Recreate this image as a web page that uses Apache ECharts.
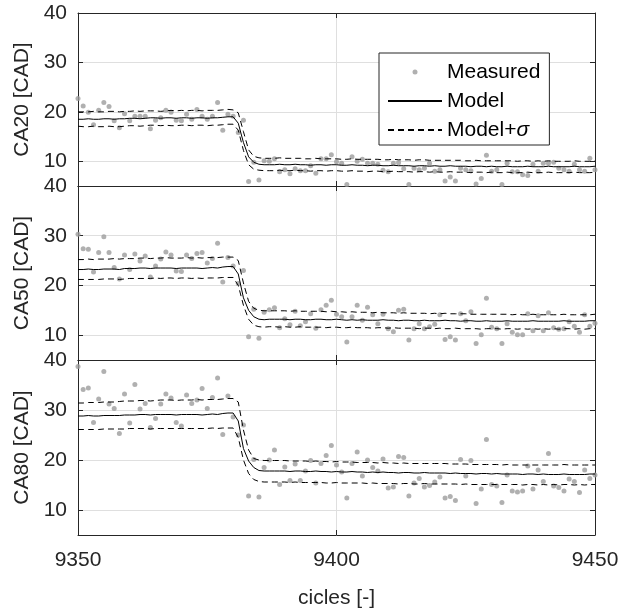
<!DOCTYPE html>
<html>
<head>
    <meta charset="utf-8">
    <script src="https://cdn.jsdelivr.net/npm/echarts@6/dist/echarts.min.js"></script>
    <style>
        html, body { margin: 0; padding: 0; background: #ffffff; }
        #chart { width: 620px; height: 614px; }
    </style>
</head>
<body>
<div id="chart"></div>
<script>
    // cycle numbers (x)
    var cycles = [
        9350, 9351, 9352, 9353, 9354, 9355, 9356, 9357, 9358, 9359,
        9360, 9361, 9362, 9363, 9364, 9365, 9366, 9367, 9368, 9369,
        9370, 9371, 9372, 9373, 9374, 9375, 9376, 9377, 9378, 9379,
        9380, 9381, 9382, 9383, 9384, 9385, 9386, 9387, 9388, 9389,
        9390, 9391, 9392, 9393, 9394, 9395, 9396, 9397, 9398, 9399,
        9400, 9401, 9402, 9403, 9404, 9405, 9406, 9407, 9408, 9409,
        9410, 9411, 9412, 9413, 9414, 9415, 9416, 9417, 9418, 9419,
        9420, 9421, 9422, 9423, 9424, 9425, 9426, 9427, 9428, 9429,
        9430, 9431, 9432, 9433, 9434, 9435, 9436, 9437, 9438, 9439,
        9440, 9441, 9442, 9443, 9444, 9445, 9446, 9447, 9448, 9449,
        9450
    ];

    // CA20
    var ca20Measured = [
        22.7, 21.2, 19.9, 17.4, 20.3, 21.9, 21.1, 18.2, 16.8, 19.6,
        18.2, 19.1, 19.1, 19.1, 16.6, 18.3, 18.8, 20.3, 19.9, 18.3,
        18.2, 19.5, 18.5, 20.5, 19.1, 18.5, 19.1, 21.9, 16.3, 19.5,
        19.1, 15.8, 18.3, 5.9, 9.8, 6.2, 10.1, 10.0, 10.5, 7.9,
        8.3, 7.5, 8.5, 8.1, 8.1, 9.1, 7.6, 10.5, 10.5, 11.3,
        9.9, 9.6, 5.3, 10.9, 10.0, 10.4, 9.6, 9.6, 9.4, 8.2,
        7.9, 9.6, 9.7, 8.5, 5.3, 8.6, 8.3, 8.6, 9.6, 8.0,
        8.3, 6.0, 6.8, 6.0, 8.6, 8.3, 8.1, 5.4, 6.5, 11.2,
        8.0, 8.3, 5.3, 9.6, 7.9, 7.9, 7.3, 7.1, 9.4, 8.0,
        9.6, 9.6, 9.8, 8.6, 8.3, 8.0, 9.4, 8.3, 8.0, 10.6,
        8.3
    ];
    var ca20Model = [
        18.5, 18.5, 18.6, 18.5, 18.5, 18.6, 18.6, 18.5, 18.6, 18.6,
        18.7, 18.7, 18.6, 18.7, 18.8, 18.8, 18.7, 18.8, 18.8, 18.7,
        18.8, 18.8, 18.7, 18.8, 18.8, 18.7, 18.8, 18.8, 18.9, 19.0,
        19.0, 17.7, 13.8, 10.9, 9.8, 9.4, 9.3, 9.3, 9.3, 9.4,
        9.3, 9.3, 9.4, 9.3, 9.3, 9.2, 9.3, 9.3, 9.2, 9.3,
        9.3, 9.2, 9.2, 9.3, 9.2, 9.2, 9.1, 9.2, 9.2, 9.1,
        9.1, 9.2, 9.1, 9.1, 9.1, 9.0, 9.1, 9.1, 9.0, 9.1,
        9.0, 9.0, 9.1, 9.0, 9.0, 9.0, 8.9, 9.0, 9.0, 8.9,
        9.0, 8.9, 8.9, 9.0, 8.9, 8.9, 8.9, 9.0, 8.9, 8.9,
        8.9, 9.0, 8.9, 8.9, 8.9, 8.9, 9.0, 8.9, 8.9, 8.9,
        9.0
    ];
    var ca20Upper = [
        20.0, 20.0, 20.0, 20.1, 20.0, 20.0, 20.1, 20.1, 20.0, 20.1,
        20.1, 20.2, 20.1, 20.2, 20.2, 20.2, 20.1, 20.2, 20.3, 20.2,
        20.3, 20.2, 20.3, 20.3, 20.2, 20.3, 20.3, 20.3, 20.4, 20.5,
        20.4, 19.8, 16.0, 12.3, 11.0, 10.7, 10.6, 10.6, 10.6, 10.7,
        10.6, 10.6, 10.6, 10.6, 10.5, 10.5, 10.6, 10.5, 10.5, 10.5,
        10.5, 10.4, 10.4, 10.5, 10.4, 10.4, 10.4, 10.4, 10.4, 10.3,
        10.3, 10.4, 10.3, 10.3, 10.3, 10.2, 10.3, 10.3, 10.2, 10.2,
        10.2, 10.2, 10.2, 10.2, 10.2, 10.1, 10.1, 10.2, 10.1, 10.1,
        10.1, 10.1, 10.1, 10.1, 10.1, 10.0, 10.1, 10.1, 10.0, 10.1,
        10.0, 10.1, 10.0, 10.0, 10.0, 10.0, 10.1, 10.0, 10.0, 10.0,
        10.1
    ];
    var ca20Lower = [
        17.1, 17.0, 17.0, 17.1, 17.0, 17.0, 17.1, 17.0, 17.0, 17.1,
        17.2, 17.2, 17.1, 17.2, 17.3, 17.3, 17.2, 17.3, 17.2, 17.2,
        17.3, 17.3, 17.2, 17.3, 17.3, 17.2, 17.3, 17.3, 17.4, 17.5,
        17.5, 16.3, 12.2, 9.3, 8.4, 8.2, 8.1, 8.1, 8.1, 8.2,
        8.1, 8.1, 8.2, 8.1, 8.1, 8.0, 8.1, 8.1, 8.0, 8.1,
        8.1, 8.0, 8.0, 8.1, 8.0, 8.0, 7.9, 8.0, 8.0, 7.9,
        7.9, 8.0, 7.9, 7.9, 7.9, 7.8, 7.9, 7.9, 7.8, 7.9,
        7.8, 7.8, 7.9, 7.8, 7.8, 7.8, 7.7, 7.8, 7.8, 7.7,
        7.8, 7.7, 7.7, 7.8, 7.7, 7.7, 7.7, 7.8, 7.7, 7.7,
        7.7, 7.8, 7.7, 7.7, 7.7, 7.7, 7.8, 7.7, 7.7, 7.7,
        7.8
    ];

    // CA50
    var ca50Measured = [
        30.3, 27.4, 27.3, 22.7, 26.6, 29.8, 26.6, 23.6, 21.3, 26.1,
        23.2, 26.3, 24.9, 25.9, 21.7, 23.9, 25.3, 26.7, 26.1, 22.9,
        22.8, 26.1, 25.4, 26.4, 26.6, 24.5, 25.4, 28.5, 20.7, 25.6,
        23.9, 20.4, 23.0, 9.7, 15.2, 9.4, 14.6, 15.1, 15.5, 11.5,
        13.3, 12.1, 14.8, 11.9, 12.7, 14.3, 11.4, 15.1, 16.0, 17.0,
        14.2, 13.7, 8.6, 13.7, 16.0, 13.0, 15.6, 14.1, 12.3, 14.2,
        11.3, 10.7, 15.0, 15.2, 9.0, 11.3, 12.3, 11.3, 11.7, 12.2,
        14.1, 9.1, 9.7, 9.0, 14.3, 12.9, 14.7, 8.3, 10.1, 17.4,
        11.6, 11.3, 8.3, 12.3, 10.6, 10.1, 10.1, 14.3, 10.9, 13.9,
        10.9, 14.5, 11.5, 11.2, 11.3, 12.7, 11.8, 10.6, 14.1, 11.8,
        12.4
    ];
    var ca50Model = [
        23.2, 23.2, 23.3, 23.2, 23.2, 23.3, 23.3, 23.3, 23.2, 23.4,
        23.4, 23.4, 23.5, 23.5, 23.4, 23.5, 23.5, 23.5, 23.5, 23.4,
        23.5, 23.5, 23.5, 23.5, 23.4, 23.5, 23.6, 23.5, 23.7, 23.8,
        23.8, 22.3, 17.5, 15.0, 13.7, 13.2, 13.1, 13.2, 13.2, 13.2,
        13.2, 13.1, 13.2, 13.2, 13.1, 13.1, 13.2, 13.2, 13.1, 13.1,
        13.2, 13.1, 13.0, 13.1, 13.0, 13.1, 13.0, 13.0, 13.0, 13.1,
        13.0, 13.0, 12.9, 13.0, 13.0, 12.9, 12.9, 13.0, 12.9, 12.9,
        12.9, 13.0, 12.9, 12.9, 12.8, 12.9, 12.9, 12.8, 12.8, 12.9,
        12.8, 12.8, 12.8, 12.9, 12.8, 12.8, 12.8, 12.8, 12.9, 12.8,
        12.8, 12.8, 12.8, 12.8, 12.9, 12.8, 12.8, 12.8, 12.8, 12.9,
        12.9
    ];
    var ca50Upper = [
        25.2, 25.2, 25.3, 25.2, 25.3, 25.3, 25.3, 25.4, 25.3, 25.4,
        25.4, 25.4, 25.5, 25.5, 25.4, 25.5, 25.5, 25.6, 25.5, 25.5,
        25.5, 25.6, 25.5, 25.6, 25.5, 25.6, 25.6, 25.6, 25.7, 25.7,
        25.7, 25.0, 20.5, 16.8, 15.4, 15.0, 14.9, 14.9, 14.9, 14.9,
        14.9, 14.8, 14.9, 14.8, 14.8, 14.8, 14.8, 14.8, 14.7, 14.8,
        14.7, 14.7, 14.6, 14.7, 14.6, 14.6, 14.6, 14.5, 14.6, 14.5,
        14.5, 14.5, 14.4, 14.5, 14.4, 14.4, 14.4, 14.4, 14.3, 14.4,
        14.3, 14.4, 14.3, 14.3, 14.3, 14.3, 14.2, 14.2, 14.2, 14.2,
        14.2, 14.2, 14.2, 14.2, 14.1, 14.2, 14.1, 14.1, 14.2, 14.1,
        14.1, 14.1, 14.1, 14.1, 14.2, 14.1, 14.1, 14.1, 14.1, 14.1,
        14.2
    ];
    var ca50Lower = [
        21.2, 21.2, 21.2, 21.2, 21.2, 21.3, 21.3, 21.3, 21.2, 21.3,
        21.4, 21.4, 21.4, 21.4, 21.4, 21.5, 21.4, 21.5, 21.5, 21.4,
        21.5, 21.5, 21.4, 21.5, 21.4, 21.5, 21.5, 21.5, 21.6, 21.6,
        21.6, 20.0, 16.0, 13.2, 12.0, 11.7, 11.6, 11.7, 11.7, 11.6,
        11.7, 11.6, 11.6, 11.7, 11.6, 11.6, 11.6, 11.6, 11.5, 11.6,
        11.6, 11.5, 11.5, 11.6, 11.5, 11.5, 11.5, 11.4, 11.5, 11.5,
        11.4, 11.5, 11.4, 11.4, 11.4, 11.4, 11.3, 11.4, 11.4, 11.3,
        11.4, 11.3, 11.3, 11.4, 11.3, 11.3, 11.3, 11.3, 11.2, 11.3,
        11.3, 11.3, 11.2, 11.3, 11.3, 11.2, 11.3, 11.2, 11.3, 11.2,
        11.3, 11.2, 11.3, 11.2, 11.3, 11.3, 11.2, 11.3, 11.2, 11.3,
        11.3
    ];

    // CA80
    var ca80Measured = [
        38.7, 34.1, 34.4, 27.5, 32.2, 37.7, 31.2, 30.3, 25.3, 33.2,
        27.4, 35.1, 30.2, 31.3, 26.5, 28.3, 31.2, 33.2, 32.4, 27.5,
        26.8, 33.0, 31.3, 32.0, 34.3, 30.3, 32.5, 36.4, 25.1, 32.8,
        28.6, 25.0, 27.0, 12.8, 20.1, 12.6, 18.5, 20.0, 22.0, 15.1,
        18.6, 15.9, 19.2, 15.9, 17.8, 19.9, 15.4, 19.3, 20.9, 22.9,
        19.0, 17.6, 12.4, 19.3, 21.6, 16.8, 20.0, 18.5, 17.8, 20.2,
        14.4, 14.6, 20.7, 20.5, 12.8, 15.4, 16.3, 14.6, 14.9, 15.6,
        16.6, 12.4, 12.7, 11.9, 20.1, 16.8, 19.9, 11.3, 14.2, 24.1,
        15.1, 14.8, 11.5, 17.0, 13.8, 13.6, 13.8, 18.8, 14.2, 18.0,
        15.7, 21.3, 14.8, 14.5, 13.8, 16.2, 15.7, 13.5, 18.0, 16.3,
        17.0
    ];
    var ca80Model = [
        28.8, 28.8, 28.9, 28.8, 28.8, 28.9, 28.9, 28.9, 28.9, 29.0,
        29.0, 29.0, 29.1, 29.1, 29.0, 29.1, 29.1, 29.1, 29.1, 29.0,
        29.1, 29.1, 29.1, 29.1, 29.0, 29.1, 29.2, 29.1, 29.3, 29.4,
        29.4, 27.8, 22.3, 19.8, 18.5, 17.9, 17.8, 17.8, 17.8, 17.8,
        17.8, 17.7, 17.8, 17.8, 17.7, 17.7, 17.8, 17.7, 17.7, 17.6,
        17.7, 17.6, 17.6, 17.7, 17.6, 17.6, 17.5, 17.6, 17.5, 17.6,
        17.5, 17.5, 17.4, 17.5, 17.5, 17.4, 17.4, 17.5, 17.4, 17.4,
        17.4, 17.4, 17.3, 17.4, 17.3, 17.3, 17.3, 17.2, 17.3, 17.3,
        17.2, 17.3, 17.2, 17.2, 17.2, 17.2, 17.1, 17.2, 17.2, 17.1,
        17.2, 17.1, 17.1, 17.1, 17.2, 17.1, 17.1, 17.1, 17.1, 17.2,
        17.2
    ];
    var ca80Upper = [
        31.4, 31.4, 31.5, 31.5, 31.5, 31.6, 31.6, 31.6, 31.7, 31.8,
        31.8, 31.8, 31.9, 31.9, 31.8, 31.9, 32.0, 32.0, 32.0, 31.9,
        32.0, 32.0, 32.0, 32.1, 32.0, 32.1, 32.1, 32.1, 32.2, 32.3,
        32.3, 31.6, 26.0, 22.0, 20.3, 20.0, 19.9, 19.9, 19.9, 19.9,
        19.9, 19.8, 19.8, 19.8, 19.8, 19.7, 19.8, 19.7, 19.7, 19.6,
        19.7, 19.6, 19.6, 19.6, 19.5, 19.5, 19.5, 19.5, 19.4, 19.5,
        19.4, 19.4, 19.3, 19.4, 19.3, 19.3, 19.3, 19.3, 19.3, 19.3,
        19.3, 19.3, 19.2, 19.2, 19.2, 19.2, 19.1, 19.1, 19.1, 19.1,
        19.1, 19.1, 19.0, 19.1, 19.0, 19.0, 19.0, 19.0, 19.0, 19.0,
        19.0, 19.0, 19.0, 19.0, 19.1, 19.0, 19.0, 19.0, 19.0, 19.0,
        19.0
    ];
    var ca80Lower = [
        26.1, 26.1, 26.1, 26.1, 26.1, 26.2, 26.2, 26.2, 26.2, 26.2,
        26.3, 26.3, 26.3, 26.3, 26.2, 26.3, 26.3, 26.3, 26.3, 26.3,
        26.3, 26.3, 26.3, 26.3, 26.3, 26.3, 26.4, 26.3, 26.4, 26.4,
        26.4, 24.5, 20.0, 17.3, 16.1, 15.7, 15.6, 15.6, 15.6, 15.6,
        15.6, 15.5, 15.6, 15.5, 15.5, 15.5, 15.5, 15.5, 15.4, 15.4,
        15.5, 15.4, 15.4, 15.4, 15.4, 15.4, 15.3, 15.4, 15.3, 15.3,
        15.3, 15.3, 15.2, 15.3, 15.3, 15.2, 15.2, 15.3, 15.2, 15.2,
        15.2, 15.2, 15.2, 15.2, 15.1, 15.2, 15.1, 15.1, 15.1, 15.1,
        15.1, 15.1, 15.1, 15.1, 15.1, 15.1, 15.0, 15.1, 15.1, 15.0,
        15.1, 15.0, 15.1, 15.0, 15.1, 15.1, 15.0, 15.1, 15.0, 15.1,
        15.1
    ];

    var panelNames = ['CA20 [CAD]', 'CA50 [CAD]', 'CA80 [CAD]'];
    var xTicks = [9350, 9400, 9450];

    var panels = [
        { measured: ca20Measured, model: ca20Model, upper: ca20Upper, lower: ca20Lower },
        { measured: ca50Measured, model: ca50Model, upper: ca50Upper, lower: ca50Lower },
        { measured: ca80Measured, model: ca80Model, upper: ca80Upper, lower: ca80Lower }
    ];

    var font = '"Liberation Sans", Arial, Helvetica, sans-serif';
    var ink = '#262626';
    var gridTops = [13, 186, 360];
    var gridHeights = [173, 174, 175];

    function pairs(values) {
        return values.map(function (v, i) { return [cycles[i], v]; });
    }

    var grid = [], xAxis = [], yAxis = [], series = [];

    panels.forEach(function (p, i) {
        grid.push({
            left: 78, right: 25, top: gridTops[i], height: gridHeights[i],
            containLabel: false, outerBoundsMode: 'none'
        });

        // bottom x axis
        xAxis.push({
            type: 'value', gridIndex: i,
            min: xTicks[0], max: xTicks[2], interval: xTicks[1] - xTicks[0],
            axisLine: { show: true, onZero: false, lineStyle: { color: ink, width: 1 } },
            axisTick: { show: true, inside: true, length: 5, lineStyle: { color: ink } },
            axisLabel: {
                show: i === 2, margin: 15, fontSize: 21, color: ink, fontFamily: font,
                formatter: function (v) { return String(v); }
            },
            splitLine: { show: true, lineStyle: { color: '#dfdfdf', width: 1 } },
            name: i === 2 ? 'cicles [-]' : '',
            nameLocation: 'middle', nameGap: 53,
            nameTextStyle: { fontSize: 21, color: ink, fontFamily: font }
        });
        // top x axis (ticks only)
        xAxis.push({
            type: 'value', gridIndex: i, position: 'top',
            min: xTicks[0], max: xTicks[2], interval: xTicks[1] - xTicks[0],
            axisLine: { show: true, onZero: false, lineStyle: { color: ink, width: 1 } },
            axisTick: { show: true, inside: true, length: 5, lineStyle: { color: ink } },
            axisLabel: { show: false },
            splitLine: { show: false }
        });

        // left y axis
        yAxis.push({
            type: 'value', gridIndex: i, min: 5, max: 40, splitNumber: 4,
            axisLine: { show: true, onZero: false, lineStyle: { color: ink, width: 1 } },
            axisTick: { show: true, inside: true, length: 5, lineStyle: { color: ink } },
            axisLabel: { show: true, showMinLabel: false, margin: 11, fontSize: 21, color: ink, fontFamily: font },
            splitLine: { show: true, lineStyle: { color: '#dfdfdf', width: 1 } },
            name: panelNames[i], nameLocation: 'middle', nameGap: 45,
            nameTextStyle: { fontSize: 21, color: ink, fontFamily: font }
        });
        // right y axis (ticks only)
        yAxis.push({
            type: 'value', gridIndex: i, position: 'right', min: 5, max: 40, splitNumber: 4,
            axisLine: { show: true, onZero: false, lineStyle: { color: ink, width: 1 } },
            axisTick: { show: true, inside: true, length: 5, lineStyle: { color: ink } },
            axisLabel: { show: false },
            splitLine: { show: false }
        });

        series.push({
            name: 'Measured', type: 'scatter',
            xAxisIndex: 2 * i, yAxisIndex: 2 * i,
            symbol: 'circle', symbolSize: 5,
            itemStyle: { color: '#9c9c9c' },
            data: pairs(p.measured), z: 2
        });
        series.push({
            name: 'Model', type: 'line',
            xAxisIndex: 2 * i, yAxisIndex: 2 * i,
            symbol: 'none',
            itemStyle: { color: '#000000' },
            lineStyle: { color: '#000000', width: 1 },
            data: pairs(p.model), z: 3
        });
        series.push({
            name: 'Model+σ', type: 'line',
            xAxisIndex: 2 * i, yAxisIndex: 2 * i,
            symbol: 'none',
            itemStyle: { color: '#000000' },
            lineStyle: { color: '#000000', width: 1, type: [6, 4] },
            data: pairs(p.upper), z: 3
        });
        series.push({
            name: 'Model-σ', type: 'line',
            xAxisIndex: 2 * i, yAxisIndex: 2 * i,
            symbol: 'none',
            itemStyle: { color: '#000000' },
            lineStyle: { color: '#000000', width: 1, type: [6, 4] },
            data: pairs(p.lower), z: 3
        });
    });

    var chart = echarts.init(document.getElementById('chart'));
    chart.setOption({
        animation: false,
        backgroundColor: '#ffffff',
        grid: grid,
        xAxis: xAxis,
        yAxis: yAxis,
        legend: {
            left: 379, top: 53, orient: 'vertical', selectedMode: false,
            data: [
                { name: 'Measured', icon: 'circle' },
                { name: 'Model', itemStyle: { color: 'rgba(0,0,0,0)', borderWidth: 0 } },
                { name: 'Model+σ', itemStyle: { color: 'rgba(0,0,0,0)', borderWidth: 0 } }
            ],
            itemWidth: 54, itemHeight: 5, itemGap: 7,
            padding: [8, 9, 4, 8],
            backgroundColor: '#ffffff', borderColor: ink, borderWidth: 1, borderRadius: 0,
            textStyle: {
                fontSize: 21, color: '#000000', fontFamily: font, lineHeight: 22,
                rich: { s: { fontSize: 21, fontStyle: 'italic', fontFamily: font, color: '#000000', lineHeight: 22 } }
            },
            formatter: function (n) { return n === 'Model+σ' ? 'Model+{s|σ}' : n; }
        },
        series: series
    });
</script>
</body>
</html>
